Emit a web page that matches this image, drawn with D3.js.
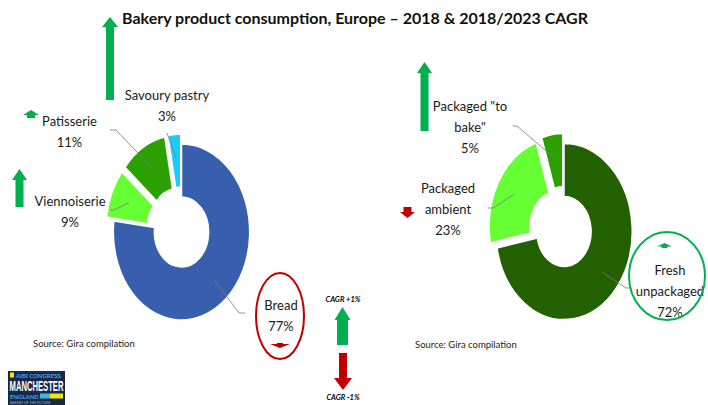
<!DOCTYPE html>
<html>
<head>
<meta charset="utf-8">
<script src="https://cdn.jsdelivr.net/npm/d3@7"></script>
<style>
  body { margin: 0; background: #fff; }
  svg { display: block; font-family: Lato, "Open Sans", sans-serif; }
</style>
</head>
<body>
<div id="chart"></div>
<script>
// data
const leftCategories = ["Bread", "Viennoiserie", "Patisserie", "Savoury pastry"];
const leftValues = [77, 9, 11, 3];
const leftColors = ["#375fae", "#66ff33", "#2aa100", "#1ccbff"];

const rightCategories = ["Fresh unpackaged", "Packaged ambient", "Packaged \"to bake\""];
const rightValues = [72, 23, 5];
const rightColors = ["#236100", "#66ff33", "#2aa100"];

const W = 708, H = 405;
const svg = d3.select("#chart").append("svg").attr("width", W).attr("height", H);

// title
svg.append("text")
    .attr("x", 122).attr("y", 24)
    .style("font-size", "16px").style("font-weight", "bold").style("fill", "#111")
    .text("Bakery product consumption, Europe \u2013 2018 & 2018/2023 CAGR");

const R = 88, r0 = 35, sx = 0.775, explode = 10;
const arc = d3.arc().innerRadius(r0).outerRadius(R);
const pie = d3.pie().sort(null).value(d => d);

function donut(cx, cy, values, colors, exploded, labels) {
    let arcs = pie(values);
    let g = svg.append("g").attr("transform", `translate(${cx},${cy}) scale(${sx},1)`);
    g.selectAll("path").data(arcs).enter().append("path")
        .attr("d", arc)
        .attr("fill", (d, i) => colors[i])
        .attr("stroke", "#fff").attr("stroke-width", 1.5)
        .attr("vector-effect", "non-scaling-stroke")
        .attr("transform", (d, i) => {
            let m = (d.startAngle + d.endAngle) / 2, e = exploded[i] ? explode : 0;
            return `translate(${e * Math.sin(m)},${-e * Math.cos(m)})`;
        });

    // leader lines + labels
    arcs.forEach((d, i) => {
        let lb = labels[i];
        let m = (d.startAngle + d.endAngle) / 2;
        let rr = 64 + (exploded[i] ? explode : 0);
        let inner = [cx + sx * rr * Math.sin(m), cy - rr * Math.cos(m)];
        let pts = lb.line.concat([inner]);
        svg.append("path")
            .attr("d", d3.line()(pts))
            .attr("fill", "none").attr("stroke", "#7a7a7a").attr("stroke-width", 0.8);
        let t = svg.append("text").attr("text-anchor", "middle")
            .style("font-size", "13px").style("fill", "#1a1a1a");
        lb.lines.forEach((s, k) => {
            t.append("tspan").attr("x", lb.x).attr("y", lb.y + k * 21).text(s);
        });
    });
}

donut(181.5, 232, leftValues, leftColors, [false, true, true, true], [
    { lines: [leftCategories[0], leftValues[0] + "%"], x: 281, y: 310, line: [[245, 313], [239, 313]] },
    { lines: [leftCategories[1], leftValues[1] + "%"], x: 70, y: 206, line: [[110, 210], [114, 210]] },
    { lines: [leftCategories[2], leftValues[2] + "%"], x: 69.5, y: 126, line: [[110, 130], [116, 130]] },
    { lines: [leftCategories[3], leftValues[3] + "%"], x: 167, y: 100, line: [[167, 133]] }
]);

donut(564, 231.5, rightValues, rightColors, [false, true, true], [
    { lines: ["Fresh", "unpackaged", rightValues[0] + "%"], x: 670, y: 275, line: [[630, 288], [626, 288]] },
    { lines: ["Packaged", "ambient", rightValues[1] + "%"], x: 448, y: 193, line: [[488, 208], [493, 208]] },
    { lines: ["Packaged \"to", "bake\"", rightValues[2] + "%"], x: 470, y: 111, line: [[513, 126], [517, 126]] }
]);

// highlight ellipses
svg.append("ellipse").attr("cx", 280).attr("cy", 316).attr("rx", 24).attr("ry", 43)
    .attr("fill", "none").attr("stroke", "#c00000").attr("stroke-width", 2);
svg.append("ellipse").attr("cx", 667).attr("cy", 276).attr("rx", 38).attr("ry", 44)
    .attr("fill", "none").attr("stroke", "#00b050").attr("stroke-width", 2);

// CAGR arrows: x, tip, base, shaft width, head width, head height, color
function arrow(cx, tip, base, sw, hw, hh, color) {
    let dir = base > tip ? 1 : -1;
    let hy = tip + dir * hh;
    let pts = [[cx, tip], [cx + hw / 2, hy], [cx + sw / 2, hy], [cx + sw / 2, base],
               [cx - sw / 2, base], [cx - sw / 2, hy], [cx - hw / 2, hy]];
    svg.append("polygon").attr("points", pts.map(p => p.join(",")).join(" ")).attr("fill", color);
}
const green = "#00b050", red = "#c00000";
arrow(110, 17, 100, 8, 16, 10, green);      // savoury pastry
arrow(31, 110, 118, 8, 16, 5, green);       // patisserie
arrow(19.5, 169, 207, 8, 15, 11, green);    // viennoiserie
arrow(280, 348, 343, 6, 20, 4, red);        // bread
arrow(424.5, 62, 131, 8, 15, 11, green);    // to bake
arrow(407.5, 218, 207, 8, 15, 6, red);      // ambient
arrow(664.5, 243, 248, 6, 15, 3.5, green);  // fresh
arrow(342.5, 307, 345, 11, 16, 13, green);  // legend +
arrow(343, 390, 353, 8, 18, 12, red);       // legend -

svg.append("text").attr("x", 343).attr("y", 302).attr("text-anchor", "middle")
    .style("font-size", "7.5px").style("font-style", "italic").style("font-weight", "bold")
    .text("CAGR +1%");
svg.append("text").attr("x", 343).attr("y", 400).attr("text-anchor", "middle")
    .style("font-size", "7.5px").style("font-style", "italic").style("font-weight", "bold")
    .text("CAGR -1%");

// sources
[[33, 347], [415, 348]].forEach(p => {
    svg.append("text").attr("x", p[0]).attr("y", p[1])
        .style("font-size", "9.5px").style("fill", "#222").text("Source: Gira compilation");
});

// logo
let logo = svg.append("g").attr("transform", "translate(8,371)");
logo.append("rect").attr("width", 57).attr("height", 34).attr("fill", "#17284a");
logo.append("rect").attr("x", 2).attr("y", 1.5).attr("width", 4).attr("height", 5).attr("fill", "#f2e500");
logo.append("text").attr("x", 8).attr("y", 6.5).style("font-size", "6px").style("font-weight", "bold")
    .style("fill", "#4aa8e0").text("AIBI CONGRESS");
logo.append("text").attr("x", 28.5).attr("y", 20).attr("text-anchor", "middle")
    .attr("textLength", 54).attr("lengthAdjust", "spacingAndGlyphs")
    .style("font-size", "14px").style("font-weight", "bold").style("fill", "#fff")
    .style("font-family", "'Liberation Sans Narrow', sans-serif").text("MANCHESTER");
logo.append("text").attr("x", 2).attr("y", 27.5).style("font-size", "6px").style("font-weight", "bold")
    .style("fill", "#4aa8e0").text("ENGLAND");
logo.append("rect").attr("x", 32).attr("y", 22.5).attr("width", 10).attr("height", 5).attr("fill", "#3fb8e8");
logo.append("rect").attr("x", 42).attr("y", 22.5).attr("width", 13).attr("height", 5).attr("fill", "#f2e500");
logo.append("text").attr("x", 2).attr("y", 32.5).style("font-size", "3.5px").style("fill", "#aab")
    .text("BAKERY OF THE FUTURE");
</script>
</body>
</html>
